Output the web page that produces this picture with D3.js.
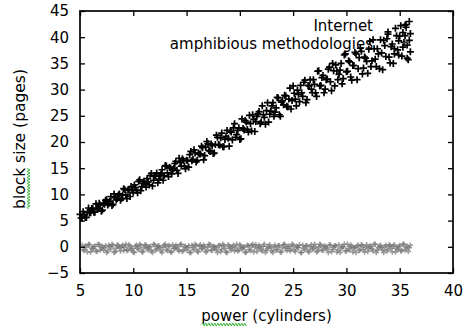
<!DOCTYPE html>
<html><head><meta charset="utf-8">
<script src="https://cdn.jsdelivr.net/npm/d3@7"></script>
<style>html,body{margin:0;padding:0;background:#fff;}svg{display:block;}</style>
</head><body>
<svg id="chart" width="465" height="329"></svg>
<script>
const xTicks = [5, 10, 15, 20, 25, 30, 35, 40];
const yTicks = [-5, 0, 5, 10, 15, 20, 25, 30, 35, 40, 45];
const seriesNames = ["Internet", "amphibious methodologies"];
const xLabel = "power (cylinders)";
const yLabel = "block size (pages)";

const internet = [
[5.0,6.2],[5.2,5.5],[5.4,6.2],[5.6,5.6],[5.8,7.4],[6.0,6.5],[6.2,7.3],[6.4,6.6],[6.6,7.4],[6.8,8.3],
[7.0,6.8],[7.2,8.3],[7.4,8.9],[7.6,8.0],[7.8,8.7],[8.0,7.9],[8.2,10.1],[8.4,9.0],[8.6,9.9],[8.8,8.9],
[9.0,9.9],[9.2,10.9],[9.4,9.2],[9.6,10.9],[9.8,11.5],[10.0,10.4],[10.2,11.3],[10.4,10.3],[10.6,12.8],[10.8,11.5],
[11.0,12.5],[11.2,11.4],[11.4,12.4],[11.6,13.6],[11.8,11.6],[12.0,13.5],[12.2,14.1],[12.4,12.9],[12.6,13.9],[12.8,12.7],
[13.0,15.5],[13.2,14.1],[13.4,15.2],[13.6,13.9],[13.8,15.0],[14.0,16.3],[14.2,14.0],[14.4,16.1],[14.6,16.8],[14.8,15.4],
[15.0,16.5],[15.2,15.2],[15.4,18.2],[15.6,16.7],[15.8,17.9],[16.0,16.5],[16.2,17.7],[16.4,19.2],[16.6,16.6],[16.8,19.0],
[17.0,19.7],[17.2,18.2],[17.4,19.3],[17.6,17.9],[17.8,21.3],[18.0,19.5],[18.2,20.8],[18.4,19.1],[18.6,20.5],[18.8,22.2],
[19.0,19.2],[19.2,21.9],[19.4,22.7],[19.6,20.9],[19.8,22.2],[20.0,20.5],[20.2,24.4],[20.4,22.3],[20.6,23.8],[20.8,21.9],
[21.0,23.5],[21.2,25.2],[21.4,22.0],[21.6,24.9],[21.8,25.8],[22.0,23.8],[22.2,25.2],[22.4,23.4],[22.6,27.5],[22.8,25.3],
[23.0,26.9],[23.2,24.9],[23.4,26.5],[23.6,28.4],[23.8,24.9],[24.0,27.9],[24.2,28.9],[24.4,26.8],[24.6,28.2],[24.8,26.3],
[25.0,30.7],[25.2,28.2],[25.4,29.9],[25.6,27.7],[25.8,29.4],[26.0,31.4],[26.2,27.5],[26.4,30.8],[26.6,31.9],[26.8,29.4],
[27.0,31.0],[27.2,28.7],[27.4,33.6],[27.6,30.8],[27.8,32.7],[28.0,30.1],[28.2,32.0],[28.4,34.3],[28.6,29.8],[28.8,33.6],
[29.0,34.7],[29.2,31.9],[29.4,33.7],[29.6,31.1],[29.8,36.6],[30.0,33.4],[30.2,35.5],[30.4,32.4],[30.6,34.6],[30.8,37.1],
[31.0,31.9],[31.2,36.1],[31.4,37.3],[31.6,34.1],[31.8,36.0],[32.0,33.1],[32.2,39.2],[32.4,35.5],[32.6,37.8],[32.8,34.4],
[33.0,36.8],[33.2,39.5],[33.4,33.8],[33.6,38.4],[33.8,39.7],[34.0,36.2],[34.2,38.2],[34.4,35.0],[34.6,41.7],[34.8,37.6],
[35.0,40.2],[35.2,36.4],[35.4,39.0],[35.6,41.9],[35.8,35.7],[36.0,40.7],
[35.9,43.0],[35.7,38.5],[36.0,37.2],[35.5,42.3],[34.9,39.3],[33.9,41.0],[34.5,36.8],[35.3,40.9],
[5.1,5.5],[5.3,6.7],[5.5,5.6],[5.7,6.6],[5.9,6.5],[6.1,7.3],[6.3,6.6],[6.5,8.2],[6.7,7.3],[6.9,8.0],
[7.1,7.0],[7.3,8.1],[7.5,9.0],[7.7,8.2],[7.9,9.6],[8.1,8.1],[8.3,9.4],[8.5,9.2],[8.7,10.1],[8.9,9.2],
[9.1,11.1],[9.3,9.9],[9.5,10.8],[9.7,9.6],[9.9,10.8],[10.1,11.8],[10.3,10.8],[10.5,12.5],[10.7,10.7],[10.9,12.1],
[11.1,12.0],[11.3,13.0],[11.5,11.8],[11.7,14.0],[11.9,12.7],[12.1,13.6],[12.3,12.2],[12.5,13.6],[12.7,14.7],[12.9,13.6],
[13.1,15.4],[13.3,13.4],[13.5,15.0],[13.7,14.7],[13.9,15.9],[14.1,14.6],[14.3,16.9],[14.5,15.4],[14.7,16.5],[14.9,14.9],
[15.1,16.4],[15.3,17.6],[15.5,16.4],[15.7,18.5],[15.9,16.2],[16.1,17.9],[16.3,17.7],[16.5,18.9],[16.7,17.4],[16.9,20.1],
[17.1,18.4],[17.3,19.6],[17.5,17.8],[17.7,19.5],[17.9,20.9],[18.1,19.4],[18.3,21.7],[18.5,19.1],[18.7,21.1],[18.9,20.7],
[19.1,22.1],[19.3,20.4],[19.5,23.5],[19.7,21.4],[19.9,22.7],[20.1,20.6],[20.3,22.6],[20.5,24.1],[20.7,22.4],[20.9,25.1],
[21.1,22.1],[21.3,24.3],[21.5,23.9],[21.7,25.4],[21.9,23.5],[22.1,26.9],[22.3,24.7],[22.5,26.0],[22.7,23.8],[22.9,25.9],
[23.1,27.5],[23.3,25.7],[23.5,28.5],[23.7,25.2],[23.9,27.6],[24.1,27.1],[24.3,28.8],[24.5,26.7],[24.7,30.3],[24.9,27.9],
[25.1,29.3],[25.3,26.9],[25.5,29.1],[25.7,30.8],[25.9,28.7],[26.1,31.8],[26.3,28.1],[26.5,30.7],[26.7,30.1],[26.9,31.9],
[27.1,29.4],[27.3,33.5],[27.5,30.7],[27.7,32.3],[27.9,29.4],[28.1,31.9],[28.3,33.9],[28.5,31.5],[28.7,35.0],[28.9,30.7],
[29.1,33.6],[29.3,32.9],[29.5,35.0],[29.7,32.1],[29.9,36.8],[30.1,33.5],[30.3,35.3],[30.5,31.8],[30.7,34.6],[30.9,36.8],
[31.1,34.0],[31.3,37.9],[31.5,33.0],[31.7,36.2],[31.9,35.4],[32.1,37.7],[32.3,34.4],[32.5,39.5],[32.7,35.8],[32.9,37.8],
[33.1,34.0],[33.3,37.0],[33.5,39.4],[33.7,36.3],[33.9,40.6],[34.1,35.1],[34.3,38.7],[34.5,37.8],[34.7,40.3],[34.9,36.6],
[35.1,42.2],[35.3,38.1],[35.5,40.3],[35.7,36.0],[35.9,39.4]
];

const amphibious = [
[5.2,0.3],[5.4,-0.7],[5.6,-0.1],[5.8,0.5],[6.0,-1.0],[6.2,-0.4],[6.4,0.1],[6.6,-0.9],[6.8,0.4],[7.0,-0.2],
[7.2,-0.6],[7.4,0.2],[7.6,-0.8],[7.8,0.0],[8.0,0.5],[8.2,-1.1],[8.4,-0.3],[8.6,0.2],[8.8,-0.8],[9.0,0.3],
[9.2,-0.1],[9.4,-0.7],[9.6,0.4],[9.8,-0.5],[10.0,-1.0],[10.2,0.1],[10.4,-0.3],[10.6,0.5],[10.8,-0.9],[11.0,-0.2],
[11.2,0.3],[11.4,-0.6],[11.6,0.0],[11.8,-1.1],[12.0,0.4],[12.2,-0.4],[12.4,0.2],[12.6,-0.8],[12.8,-0.1],[13.0,0.5],
[13.2,-0.7],[13.4,0.1],[13.6,-1.0],[13.8,-0.3],[14.0,0.3],[14.2,-0.5],[14.4,0.4],[14.6,-0.9],[14.8,0.0],[15.0,-0.6],
[15.2,0.2],[15.4,-1.1],[15.6,-0.2],[15.8,0.5],[16.0,-0.8],[16.2,0.1],[16.4,-0.4],[16.6,0.3],[16.8,-1.0],[17.0,-0.1],
[17.2,0.4],[17.4,-0.7],[17.6,0.0],[17.8,-0.5],[18.0,0.2],[18.2,-0.9],[18.4,0.5],[18.6,-0.3],[18.8,-1.1],[19.0,0.1],
[19.2,-0.6],[19.4,0.3],[19.6,-0.2],[19.8,-0.8],[20.0,0.4],[20.2,-0.4],[20.4,0.0],[20.6,-1.0],[20.8,0.2],[21.0,-0.7],
[21.2,0.5],[21.4,-0.1],[21.6,-0.9],[21.8,0.3],[22.0,-0.5],[22.2,0.1],[22.4,-1.1],[22.6,-0.3],[22.8,0.4],[23.0,-0.8],
[23.2,0.0],[23.4,-0.6],[23.6,0.2],[23.8,-1.0],[24.0,-0.2],[24.2,0.5],[24.4,-0.7],[24.6,0.1],[24.8,-0.4],[25.0,0.3],
[25.2,-0.9],[25.4,-0.1],[25.6,0.4],[25.8,-1.1],[26.0,-0.3],[26.2,0.2],[26.4,-0.8],[26.6,0.0],[26.8,-0.5],[27.0,0.5],
[27.2,-1.0],[27.4,-0.2],[27.6,0.3],[27.8,-0.7],[28.0,0.1],[28.2,-0.4],[28.4,0.4],[28.6,-0.9],[28.8,-0.1],[29.0,0.2],
[29.2,-0.6],[29.4,-1.1],[29.6,0.0],[29.8,0.5],[30.0,-0.8],[30.2,-0.3],[30.4,0.3],[30.6,-1.0],[30.8,-0.2],[31.0,0.1],
[31.2,-0.7],[31.4,0.4],[31.6,-0.5],[31.8,-0.1],[32.0,-0.9],[32.2,0.2],[32.4,-0.4],[32.6,0.5],[32.8,-1.1],[33.0,-0.2],
[33.2,0.3],[33.4,-0.6],[33.6,0.0],[33.8,-0.8],[34.0,0.4],[34.2,-0.3],[34.4,0.1],[34.6,-1.0],[34.8,-0.5],[35.0,0.2],
[35.2,-0.7],[35.4,0.5],[35.6,-0.2],[35.8,-0.9],[36.0,0.3],
[5.3,-0.5],[5.5,0.2],[5.7,-1.0],[5.9,0.4],[6.1,-0.3],[6.3,0.0],[6.5,-0.8],[6.7,0.5],[6.9,-0.6],[7.1,0.1],
[7.3,-0.2],[7.5,-1.1],[7.7,0.3],[7.9,-0.4],[8.1,0.2],[8.3,-0.9],[8.5,0.4],[8.7,-0.2],[8.9,0.0],[9.1,-0.7],
[9.3,0.5],[9.5,-0.6],[9.7,0.1],[9.9,-0.3],[10.1,-1.1],[10.3,0.3],[10.5,-0.5],[10.7,0.2],[10.9,-1.0],[11.1,0.4],
[11.3,-0.3],[11.5,0.0],[11.7,-0.8],[11.9,0.5],[12.1,-0.6],[12.3,0.1],[12.5,-0.2],[12.7,-1.1],[12.9,0.3],[13.1,-0.5],
[13.3,0.2],[13.5,-1.0],[13.7,0.4],[13.9,-0.3],[14.1,0.0],[14.3,-0.8],[14.5,0.5],[14.7,-0.6],[14.9,0.1],[15.1,-0.2],
[15.3,-1.1],[15.5,0.3],[15.7,-0.5],[15.9,0.2],[16.1,-1.0],[16.3,0.4],[16.5,-0.3],[16.7,0.0],[16.9,-0.8],[17.1,0.5],
[17.3,-0.6],[17.5,0.1],[17.7,-0.2],[17.9,-1.1],[18.1,0.3],[18.3,-0.5],[18.5,0.2],[18.7,-1.0],[18.9,0.4],[19.1,-0.3],
[19.3,0.0],[19.5,-0.8],[19.7,0.5],[19.9,-0.6],[20.1,0.1],[20.3,-0.2],[20.5,-1.1],[20.7,0.3],[20.9,-0.5],[21.1,0.2],
[21.3,-1.0],[21.5,0.4],[21.7,-0.3],[21.9,0.0],[22.1,-0.8],[22.3,0.5],[22.5,-0.6],[22.7,0.1],[22.9,-0.2],[23.1,-1.1],
[23.3,0.3],[23.5,-0.5],[23.7,0.2],[23.9,-1.0],[24.1,0.4],[24.3,-0.3],[24.5,0.0],[24.7,-0.8],[24.9,0.5],[25.1,-0.6],
[25.3,0.1],[25.5,-0.2],[25.7,-1.1],[25.9,0.3],[26.1,-0.5],[26.3,0.2],[26.5,-1.0],[26.7,0.4],[26.9,-0.3],[27.1,0.0],
[27.3,-0.8],[27.5,0.5],[27.7,-0.6],[27.9,0.1],[28.1,-0.2],[28.3,-1.1],[28.5,0.3],[28.7,-0.5],[28.9,0.2],[29.1,-1.0],
[29.3,0.4],[29.5,-0.3],[29.7,0.0],[29.9,-0.8],[30.1,0.5],[30.3,-0.6],[30.5,0.1],[30.7,-0.2],[30.9,-1.1],[31.1,0.3],
[31.3,-0.5],[31.5,0.2],[31.7,-1.0],[31.9,0.4],[32.1,-0.3],[32.3,0.0],[32.5,-0.8],[32.7,0.5],[32.9,-0.6],[33.1,0.1],
[33.3,-0.2],[33.5,-1.1],[33.7,0.3],[33.9,-0.5],[34.1,0.2],[34.3,-1.0],[34.5,0.4],[34.7,-0.3],[34.9,0.0],[35.1,-0.8],
[35.3,0.5],[35.5,-0.6],[35.7,0.1],[35.9,-0.2]
];

const W = 465, H = 329;
const plot = {left: 80, right: 453, top: 11, bottom: 273};
const FONT = "'DejaVu Sans', sans-serif";
const TEXT = "#000";
const svg = d3.select("#chart");
svg.append("defs").append("filter").attr("id", "soft")
  .attr("x", "-5%").attr("y", "-5%").attr("width", "110%").attr("height", "110%")
  .append("feGaussianBlur").attr("stdDeviation", 0.45);
svg.append("rect").attr("width", W).attr("height", H).attr("fill", "#fff");
const marks = svg.append("g").attr("filter", "url(#soft)");

const x = d3.scaleLinear().domain([5, 40]).range([plot.left, plot.right]);
const y = d3.scaleLinear().domain([-5, 45]).range([plot.bottom, plot.top]);

const plus = "M-3.5,0H3.5M0,-3.5V3.5";
const small = "M-2.8,0H2.8M0,-2.8V2.8";

// series 1
marks.append("g").selectAll("path").data(internet).join("path")
  .attr("transform", d => `translate(${x(d[0])},${y(d[1])})`)
  .attr("d", plus).attr("stroke", "#000").attr("stroke-width", 1.7).attr("fill", "none");

// series 2
marks.append("g").selectAll("path").data(amphibious).join("path")
  .attr("transform", d => `translate(${x(d[0])},${y(d[1])})`)
  .attr("d", small).attr("stroke", "#6a6a6a").attr("stroke-width", 1.5).attr("fill", "none")
  .attr("opacity", 0.65);

function styleAxis(g) {
  g.select(".domain").remove();
  g.selectAll(".tick line").attr("stroke", "#000").attr("stroke-width", 1.3);
  g.selectAll(".tick text").attr("font-family", FONT).attr("font-size", 15).attr("fill", TEXT);
}

svg.append("g").attr("transform", `translate(0,${plot.bottom})`)
  .call(d3.axisBottom(x).tickValues(xTicks).tickSize(-5).tickPadding(12).tickFormat(d3.format("d")))
  .call(styleAxis);
svg.append("g").attr("transform", `translate(0,${plot.top})`)
  .call(d3.axisTop(x).tickValues(xTicks).tickSize(-5).tickFormat(""))
  .call(styleAxis);
svg.append("g").attr("transform", `translate(${plot.left},0)`)
  .call(d3.axisLeft(y).tickValues(yTicks).tickSize(-5).tickPadding(11).tickFormat(d3.format("d")))
  .call(styleAxis);
svg.append("g").attr("transform", `translate(${plot.right},0)`)
  .call(d3.axisRight(y).tickValues(yTicks).tickSize(-5).tickFormat(""))
  .call(styleAxis);

svg.append("rect").attr("x", plot.left).attr("y", plot.top)
  .attr("width", plot.right - plot.left).attr("height", plot.bottom - plot.top)
  .attr("fill", "none").attr("stroke", "#000").attr("stroke-width", 1.7);

// legend
const legendX = 373;
const legendY = [30.5, 48.5];
seriesNames.forEach((name, i) => {
  svg.append("text").attr("x", legendX).attr("y", legendY[i]).attr("text-anchor", "end")
    .attr("font-family", FONT).attr("font-size", 15).attr("fill", TEXT).text(name);
});
marks.append("path").attr("transform", `translate(406,${legendY[0] - 6})`)
  .attr("d", plus).attr("stroke", "#000").attr("stroke-width", 1.7);
marks.append("path").attr("transform", `translate(406,${legendY[1] - 6})`)
  .attr("d", small).attr("stroke", "#6a6a6a").attr("stroke-width", 1.5).attr("opacity", 0.65);

function wave(x0, x1) {
  let d = `M${x0},0`;
  let up = true;
  for (let t = x0 + 1.5; t <= x1; t += 1.5) { d += `L${t},${up ? -1.5 : 1.5}`; up = !up; }
  return d;
}

// x label
const cxL = (plot.left + plot.right) / 2;
const xl = svg.append("text").attr("x", cxL).attr("y", 320.5).attr("text-anchor", "middle")
  .attr("font-family", FONT).attr("font-size", 15).attr("fill", TEXT).text(xLabel);
const xlTotal = xl.node().getComputedTextLength();
const xlWord = xl.node().getSubStringLength(0, 5);
svg.append("path").attr("transform", `translate(0,324.5)`)
  .attr("d", wave(cxL - xlTotal / 2, cxL - xlTotal / 2 + xlWord))
  .attr("fill", "none").attr("stroke", "#3cb83c").attr("stroke-width", 1);

// y label
const ylx = 25, yly = 139;
const yg = svg.append("g").attr("transform", `translate(${ylx},${yly}) rotate(-90)`);
const yl = yg.append("text").attr("text-anchor", "middle")
  .attr("font-family", FONT).attr("font-size", 15.5).attr("fill", TEXT).text(yLabel);
const ylTotal = yl.node().getComputedTextLength();
const ylWord = yl.node().getSubStringLength(0, 5);
yg.append("path").attr("transform", `translate(0,3.5)`)
  .attr("d", wave(-ylTotal / 2, -ylTotal / 2 + ylWord))
  .attr("fill", "none").attr("stroke", "#3cb83c").attr("stroke-width", 1);
</script>
</body></html>
